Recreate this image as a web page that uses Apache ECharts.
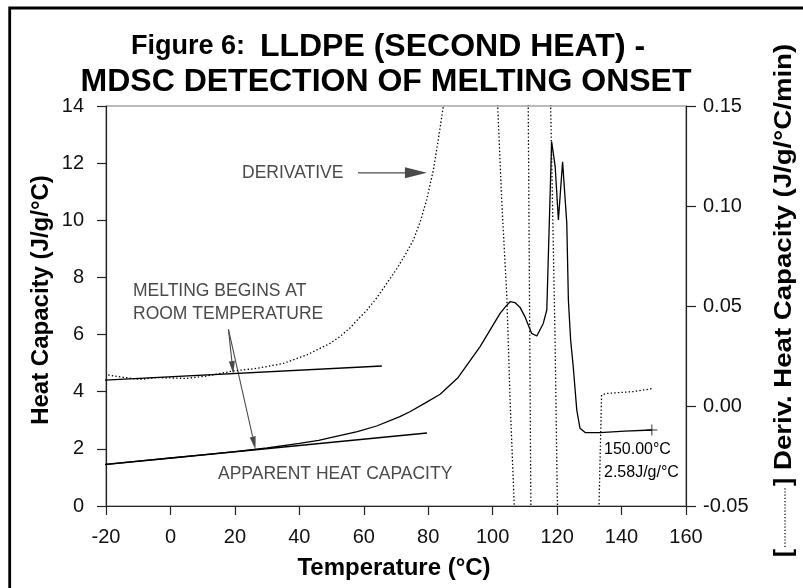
<!DOCTYPE html>
<html>
<head>
<meta charset="utf-8">
<script src="https://cdn.jsdelivr.net/npm/echarts@6/dist/echarts.min.js"></script>
<style>
html, body { margin: 0; padding: 0; background: #fff; }
#chart { width: 803px; height: 588px; }
</style>
</head>
<body>
<div id="chart"></div>
<script>
// axis ticks
const tempTicks = [-20, 0, 20, 40, 60, 80, 100, 120, 140, 160];
const cpTicks = [0, 2, 4, 6, 8, 10, 12, 14];
const derivTicks = [-0.05, 0.0, 0.05, 0.10, 0.15];

// heat capacity (J/g/°C) against temperature (°C)
const heatTemp = [-20, -10, 0, 10, 20, 30, 40, 46, 51.1, 58, 64, 71.2, 74.3, 79, 83.7, 89.3, 96.1, 102.3, 104, 105.4,
    106.9, 108.5, 110, 112.1, 113.7, 114.2, 115.7, 116.8, 118.3, 119.4, 120.4, 121.7, 123, 123.5, 124.2, 125, 126.1,
    127.1, 128.7, 133.3, 141, 149.4];
const heatCp = [1.46, 1.57, 1.68, 1.79, 1.90, 2.03, 2.19, 2.3, 2.43, 2.6, 2.80, 3.13, 3.30, 3.6, 3.91, 4.50, 5.58, 6.74, 6.98, 7.15,
    7.12, 6.95, 6.63, 6.04, 5.95, 5.99, 6.39, 6.86, 12.75, 11.88, 10.01, 12.05, 9.9, 7.2, 5.81, 4.88, 3.36,
    2.72, 2.57, 2.57, 2.62, 2.66];

// derivative (J/g/°C/min), null = trace leaves the plot
const derivTemp = [-19.3, -14.6, -9.4, -4.3, 0.5, 5.0, 11.3, 19.5, 26.8, 35.0, 42.3, 49.5, 52.6, 55.7, 58, 61, 64, 67, 70,
    73, 75.4, 77.5, 79.5, 81.6, 83.1, 84.7, 85.5, null,
    101.3, 102.8, 104.4, 105.4, 106.7, 107.0, null,
    111.0, 111.9, null,
    117.9, 118.0, 119.35, 120.1, 120.15, null,
    132.9, 133.0, 133.8, 135.4, 143.7, 149.9];
const derivValue = [0.0155, 0.0143, 0.0133, 0.0142, 0.014, 0.0138, 0.015, 0.0175, 0.0188, 0.0213, 0.0255, 0.0313, 0.0347, 0.039, 0.043, 0.048, 0.054, 0.061, 0.068,
    0.076, 0.083, 0.092, 0.103, 0.118, 0.133, 0.15, 0.16, null,
    0.16, 0.103, 0.0547, 0.003, -0.0495, -0.06, null,
    0.16, -0.06, null,
    0.16, 0.15, 0.0347, -0.05, -0.06, null,
    -0.06, -0.05, 0.0055, 0.0063, 0.0072, 0.0088];

// tangent lines drawn on the heat capacity curve
const upperTangent = [[-20.8, 4.40], [65.6, 4.90]];
const lowerTangent = [[-21.9, 1.435], [79.6, 2.555]];

// annotation arrows [fromT, fromCp, toT, toCp]
const arrows = [[58.2, 11.66, 79.6, 11.66], [18.0, 6.18, 19.5, 4.62], [18.0, 6.18, 26.4, 1.98]];
const arrowHeads = [[22, 11], [13, 6], [13, 6]];

// end point of the run
const endPoint = [[149.4, 2.66]];

const FONT = '"Liberation Sans", Arial, Helvetica, sans-serif';

function pairs(xs, ys) {
    return xs.map((x, i) => [x, ys[i]]);
}
function pieces(xs, ys) {
    let out = [];
    let cur = [];
    xs.forEach((x, i) => {
        if (x === null) {
            if (cur.length) out.push(cur);
            cur = [];
        } else {
            cur.push([x, ys[i]]);
        }
    });
    if (cur.length) out.push(cur);
    return out;
}

const chart = echarts.init(document.getElementById('chart'));

const solid = { color: '#000', width: 1.3 };
const dotted = { color: '#000', width: 1.3, type: [1.4, 2.2] };

let series = [
    {
        name: 'Heat Capacity',
        type: 'line',
        data: pairs(heatTemp, heatCp),
        symbol: 'none',
        lineStyle: solid,
        z: 3,
    },
    {
        type: 'line',
        data: upperTangent,
        symbol: 'none',
        clip: false,
        lineStyle: solid,
    },
    {
        type: 'line',
        data: lowerTangent,
        symbol: 'none',
        clip: false,
        lineStyle: solid,
    },
];
pieces(derivTemp, derivValue).forEach((seg) => {
    series.push({
        type: 'line',
        yAxisIndex: 1,
        data: seg,
        symbol: 'none',
        lineStyle: dotted,
    });
});
series.push({
    type: 'scatter',
    data: endPoint,
    symbol: 'path://M0,5L10,5M5,0L5,10',
    symbolSize: 11,
    itemStyle: { color: 'none', borderColor: '#000', borderWidth: 1 },
    z: 4,
});
series.push({
    type: 'custom',
    data: arrows,
    encode: { x: [0, 2], y: [1, 3] },
    renderItem: (params, api) => {
        const p1 = api.coord([api.value(0), api.value(1)]);
        const p2 = api.coord([api.value(2), api.value(3)]);
        const hl = arrowHeads[params.dataIndex][0];
        const hw = arrowHeads[params.dataIndex][1];
        const dx = p2[0] - p1[0];
        const dy = p2[1] - p1[1];
        const len = Math.sqrt(dx * dx + dy * dy);
        const ux = dx / len;
        const uy = dy / len;
        const bx = p2[0] - ux * hl;
        const by = p2[1] - uy * hl;
        return {
            type: 'group',
            children: [
                {
                    type: 'line',
                    shape: { x1: p1[0], y1: p1[1], x2: bx, y2: by },
                    style: { stroke: '#4a4a4a', lineWidth: 1.1 },
                },
                {
                    type: 'polygon',
                    shape: {
                        points: [
                            [p2[0], p2[1]],
                            [bx - uy * hw / 2, by + ux * hw / 2],
                            [bx + uy * hw / 2, by - ux * hw / 2],
                        ],
                    },
                    style: { fill: '#4a4a4a' },
                },
            ],
        };
    },
});

function txt(x, y, text, font, color, align, rotation, stretch) {
    return {
        type: 'text',
        x: x,
        y: y,
        rotation: rotation || 0,
        scaleX: stretch || 1,
        style: {
            text: text,
            font: font,
            fill: color,
            align: align,
            textAlign: align,
            verticalAlign: 'middle',
            textVerticalAlign: 'middle',
        },
    };
}
const noteFont = '17.5px ' + FONT;
const boldName = 'bold 24px ' + FONT;

const option = {
    animation: false,
    backgroundColor: '#fff',
    grid: {
        left: 106,
        top: 106,
        right: 117,
        bottom: 82,
        show: true,
        borderColor: '#777',
        borderWidth: 1,
    },
    xAxis: {
        type: 'value',
        min: tempTicks[0],
        max: tempTicks[tempTicks.length - 1],
        interval: 20,
        splitLine: { show: false },
        axisLine: { onZero: false, lineStyle: { color: '#222', width: 1.2 } },
        axisTick: { inside: false, length: 9, lineStyle: { color: '#222', width: 1.2 } },
        axisLabel: { margin: 21, fontSize: 20, fontFamily: FONT, color: '#111' },
    },
    yAxis: [
        {
            type: 'value',
            min: cpTicks[0],
            max: cpTicks[cpTicks.length - 1],
            interval: 2,
            splitLine: { show: false },
            axisLine: { show: true, onZero: false, lineStyle: { color: '#222', width: 1.2 } },
            axisTick: { show: true, inside: false, length: 9, lineStyle: { color: '#222', width: 1.2 } },
            axisLabel: { margin: 22, fontSize: 20, fontFamily: FONT, color: '#111' },
        },
        {
            type: 'value',
            position: 'right',
            min: derivTicks[0],
            max: derivTicks[derivTicks.length - 1],
            interval: 0.05,
            splitLine: { show: false },
            axisLine: { show: true, onZero: false, lineStyle: { color: '#222', width: 1.2 } },
            axisTick: { show: true, inside: false, length: 10, lineStyle: { color: '#222', width: 1.2 } },
            axisLabel: {
                margin: 17,
                fontSize: 20,
                fontFamily: FONT,
                color: '#111',
                formatter: (v) => v.toFixed(2),
            },
        },
    ],
    graphic: [
        // frame (only top and left edges are in the picture)
        {
            type: 'polyline',
            shape: { points: [[9.7, 588], [9.7, 8], [803, 8]] },
            style: { stroke: '#000', lineWidth: 2.8, fill: 'none' },
        },
        {
            type: 'text',
            x: 388,
            y: 47,
            style: {
                text: '{a|Figure 6:}  {b|LLDPE (SECOND HEAT) -}',
                align: 'center',
                textAlign: 'center',
                verticalAlign: 'middle',
                textVerticalAlign: 'middle',
                rich: {
                    a: { font: 'bold 27px ' + FONT, fill: '#000' },
                    b: { font: 'bold 32px ' + FONT, fill: '#000' },
                },
                font: 'bold 27px ' + FONT,
                fill: '#000',
            },
        },
        txt(386, 82, 'MDSC DETECTION OF MELTING ONSET', 'bold 32px ' + FONT, '#000', 'center'),
        txt(41, 300, 'Heat Capacity (J/g/°C)', boldName, '#000', 'center', Math.PI / 2),
        txt(394, 568, 'Temperature (°C)', boldName, '#000', 'center'),
        {
            type: 'group',
            x: 784,
            y: 557,
            rotation: Math.PI / 2,
            children: [
                txt(0, 0, '[', boldName, '#000', 'left'),
                {
                    type: 'line',
                    shape: { x1: 10, y1: 1, x2: 70, y2: 1 },
                    style: { stroke: '#000', lineWidth: 1.2, lineDash: [1.2, 2] },
                },
                txt(71, 0, ']', boldName, '#000', 'left'),
                txt(87, 0, 'Deriv. Heat Capacity (J/g/°C/min)', boldName, '#000', 'left', 0, 1.15),
            ],
        },
        txt(242, 173, 'DERIVATIVE', noteFont, '#4a4a4a', 'left'),
        txt(133, 291, 'MELTING BEGINS AT', noteFont, '#4a4a4a', 'left'),
        txt(133, 314, 'ROOM TEMPERATURE', noteFont, '#4a4a4a', 'left'),
        txt(218, 474, 'APPARENT HEAT CAPACITY', noteFont, '#4a4a4a', 'left'),
        txt(604, 450, '150.00°C', '16px ' + FONT, '#000', 'left'),
        txt(604, 473, '2.58J/g/°C', '16px ' + FONT, '#000', 'left'),
    ],
    series: series,
};

chart.setOption(option);
</script>
</body>
</html>
